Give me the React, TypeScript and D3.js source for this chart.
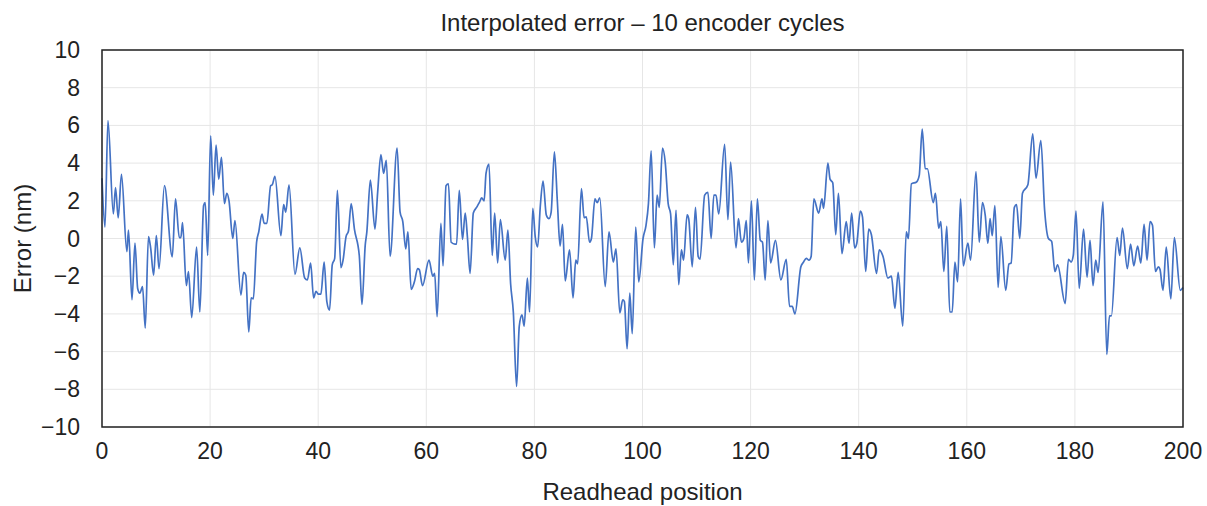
import React, { useRef, useEffect } from 'react';
import * as d3 from 'd3';

// readhead position (x) and interpolated error in nm (y) at the turning points
const positions = [
  0, 0.55, 1.1, 2.1, 2.5, 3.0, 3.6, 4.6, 4.9, 5.55, 6.1, 6.6, 7.0, 7.5, 8.0, 8.6, 9.0, 9.55, 10.05, 10.55,
  11.55, 13.0, 13.6, 14.3, 14.6, 14.9, 15.6, 16.0, 16.6, 17.5, 18.1, 18.8, 19.1, 19.55, 20.1,
  20.6, 21.1, 21.6, 22.1, 22.65, 23.1, 23.5, 24.2, 24.6, 25.7, 26.2, 26.6, 27.15, 27.6, 28.0, 28.6, 29.0,
  29.6, 30.0, 30.5, 31.2, 31.5, 32.0, 33.1, 33.6, 34.0, 34.6, 35.7, 36.6, 37.5, 38.0, 38.6, 39.15, 39.6,
  40.0, 40.5, 41.1, 41.6, 42.1, 42.6, 43.05, 43.55, 44.2, 44.6, 45.15, 45.6, 46.1, 46.7, 47.6, 48.1, 48.7,
  49.0, 49.65, 50.5, 51.0, 51.6, 52.1, 52.6, 53.3, 54.6, 55.15, 55.65, 56.2, 56.6, 57.2, 57.8, 58.4, 58.7, 59.3,
  60.5, 61.2, 61.55, 62.0, 62.7, 63.1, 63.65, 64.1, 64.6, 65.3, 65.6, 66.1, 66.7, 67.2, 67.6, 68.1, 68.7,
  69.3, 69.8, 70.25, 70.7, 71.05, 71.6, 72.2, 72.65, 73.2, 73.7, 74.6, 75.1, 75.6, 76.1, 76.7, 77.2, 77.7,
  78.1, 78.7, 79.1, 79.7, 80.15,
  80.6, 81.1, 81.6, 82.2, 82.7, 83.1, 83.7, 84.25, 84.75, 85.2, 85.7, 86.5, 87.15, 87.65, 88.0, 88.7, 89.2,
  89.6, 90.2, 90.55, 91.2, 91.6, 92.1, 93.1, 93.8, 94.6, 95.1, 95.8, 96.35, 96.65, 97.15, 97.65, 98.1, 98.75,
  99.3, 100.1,
  100.65, 101.1, 101.6, 102.2, 102.7, 103.1, 103.7, 104.2, 104.75, 105.2, 105.7, 106.2, 106.7, 107.2, 107.6,
  108.25, 108.55, 109.2, 109.8, 110.3, 110.65, 111.5, 112.1, 112.7, 113.2, 113.6, 114.1, 115.2, 115.8, 116.3,
  117.3, 117.75, 118.3, 118.75, 119.2, 119.6, 120.15,
  120.7, 121.25, 121.8, 122.2, 122.7, 123.2, 123.7, 124.6, 125.6, 126.6, 127.2, 127.7, 128.2, 129.3, 129.8,
  130.3, 130.8, 131.2, 131.7, 132.6, 133.2, 133.5, 134.3, 134.7, 135.2, 135.75, 136.25, 136.9, 137.7, 138.2,
  138.7, 139.25, 139.65, 140.3,
  140.7, 141.3, 141.85, 142.35, 143.3, 143.8, 144.5, 145.4, 146.05, 146.7, 147.3, 148.15, 148.8, 149.2, 149.75,
  150.7, 151.2, 151.75, 152.3, 152.7, 153.8, 154.2, 154.8, 155.2, 155.75, 156.3, 156.85, 157.3, 157.8, 158.3,
  158.85, 159.35, 160.2,
  160.7, 161.7, 162.3, 162.9, 163.4, 163.9, 164.3, 164.7, 165.2, 165.8, 166.3, 167.2, 167.8, 168.2, 168.8,
  169.2, 169.8, 170.3, 171.3, 172.2, 172.8, 173.7, 174.4, 175.1, 175.7, 176.3, 176.8, 178.2, 178.8, 179.3,
  179.7, 180.2,
  180.8, 181.6, 182.25, 182.8, 183.35, 183.85, 184.3, 185.2, 185.9, 186.4, 186.75, 187.8, 188.3, 188.8, 189.7,
  190.3, 190.9, 191.6, 192.2, 192.8, 193.35, 193.9, 194.35, 194.9, 195.45, 195.75, 196.3, 196.9, 197.75, 198.4,
  199.5, 200,
];

const errorNm = [
  3.2, 0.6, 6.25, 1.3, 2.7, 1.1, 3.4, -0.7, 0.45, -3.25, -0.25, -2.65, -2.9, -2.55, -4.75, 0.1, -0.5, -1.95, 0.15, -1.6,
  2.8, -0.97, 2.1, 0.05, 0.05, 0.85, -2.5, -1.75, -4.2, -0.45, -3.9, 1.75, 1.9, -0.9, 5.45,
  2.3, 4.95, 3.15, 4.3, 1.85, 2.4, 2.0, 0.0, 0.95, -3.0, -1.8, -1.95, -4.95, -3.15, -3.2, -0.2, 0.35,
  1.3, 0.8, 0.8, 2.8, 2.85, 3.3, 0.15, 1.8, 1.4, 2.85, -1.9, -0.5, -2.1, -2.2, -1.3, -3.15, -2.8,
  -2.95, -2.95, -1.25, -3.35, -3.8, -1.4, -1.05, 2.55, -1.55, -1.15, 0.1, 0.4, 1.85, 0.5, -0.9, -3.5, -0.35,
  0.35, 3.1, 0.5, 2.45, 4.45, 3.45, 4.15, -0.95, 4.8, 1.4, 0.9, -0.55, 0.35, -2.7, -2.3, -1.6, -1.65, -2.5,
  -1.15, -2.0, -1.85, -4.15, 0.8, -1.45, 2.8, 2.9, -0.2, -0.3, -0.3, 2.55, -0.05, 1.35, 0.1, -1.85, 1.35,
  1.65, 1.9, 2.15, 2.0, 3.45, 3.95, -0.9, 1.35, -1.3, 1.0, -1.15, 0.45, -2.4, -3.9, -7.85, -4.65, -4.05,
  -4.65, -2.1, -3.9, 1.6, 0.1,
  -0.45, 1.75, 3.05, 1.25, 1.05, 1.4, 4.6, 1.95, -0.4, 0.75, -2.25, -0.6, -3.15, -1.15, -1.35, 2.65, 1.1,
  1.15, -0.2, 0.0, 2.1, 1.9, 2.15, -2.55, 0.35, -1.25, -0.55, -3.95, -3.25, -3.35, -5.85, -2.9, -5.05, 0.6,
  -2.3, 0.0,
  0.7, 1.85, 4.65, -0.5, 2.3, 1.65, 4.8, 4.05, 1.85, 1.3, -1.4, 1.5, -2.45, -0.6, -1.15,
  1.25, 1.05, -1.5, 1.65, -0.95, -1.1, 2.3, 2.45, 0.0, 2.3, 2.3, 1.3, 5.0, 1.0, 4.05,
  -0.5, 1.05, -0.2, 0.0, 0.95, -1.3, 2.0,
  -2.2, 2.1, -0.1, -0.2, -2.2, 0.95, -1.3, -0.1, -2.2, -1.1, -3.6, -3.6, -4.0, -1.5, -1.25,
  -1.05, -1.15, -0.95, 2.1, 1.35, 2.1, 1.6, 4.0, 3.15, 2.95, 0.2, 2.4, -0.8, 0.9, -0.25,
  1.35, -0.5, -0.25, 1.45,
  1.15, -1.75, 0.5, 0.2, -1.85, -0.6, -0.95, -2.1, -2.0, -3.7, -1.8, -4.65, 0.35, 0.0, 2.9,
  3.0, 3.35, 5.8, 3.7, 3.7, 1.9, 2.4, 0.55, 0.9, -1.75, 0.65, -3.9, -3.9, -1.25, -2.3,
  2.1, -1.45, -0.25,
  -1.15, 3.55, -0.2, 1.9, 1.25, -0.25, 1.05, 0.15, 1.75, -2.6, 0.1, -2.75, -1.35, -1.3, 1.65,
  1.8, 0.0, 2.4, 2.85, 5.55, 3.2, 5.2, 1.5, 0.0, -0.15, -1.75, -1.4, -3.45, -1.1, -1.25,
  -0.9, 1.45,
  -2.65, 0.5, -2.05, -0.1, -2.5, -1.15, -1.8, 1.95, -6.15, -4.1, -4.1, 0.05, -0.9, 0.55, -1.6,
  -0.3, -1.45, -0.4, -1.3, 0.75, -1.15, 0.9, 0.7, -1.75, -1.5, -1.65, -2.75, -0.45, -3.2, 0.05,
  -2.75, -2.6,
];

const xTicks = [0, 20, 40, 60, 80, 100, 120, 140, 160, 180, 200];
const yTicks = [-10, -8, -6, -4, -2, 0, 2, 4, 6, 8, 10];

function App() {
  const svgRef = useRef<SVGSVGElement>(null);

  useEffect(() => {
    document.body.style.margin = "0";
    const svg = d3.select(svgRef.current);
    svg.selectAll("*").remove();

    const width = 1207;
    const height = 506;
    const margin = { top: 50, right: 24, bottom: 79, left: 102 };
    const font = "'Liberation Sans', Arial, Helvetica, sans-serif";

    const x = d3.scaleLinear()
      .domain([0, 200])
      .range([margin.left, width - margin.right]);

    const y = d3.scaleLinear()
      .domain([-10, 10])
      .range([height - margin.bottom, margin.top]);

    svg.attr("width", width).attr("height", height).style("display", "block");

    // gridlines
    svg.append("g")
      .selectAll("line")
      .data(xTicks)
      .enter()
      .append("line")
      .attr("x1", d => x(d))
      .attr("x2", d => x(d))
      .attr("y1", y(-10))
      .attr("y2", y(10))
      .attr("stroke", "#e6e6e6")
      .attr("stroke-width", 1);

    svg.append("g")
      .selectAll("line")
      .data(yTicks)
      .enter()
      .append("line")
      .attr("x1", x(0))
      .attr("x2", x(200))
      .attr("y1", d => y(d))
      .attr("y2", d => y(d))
      .attr("stroke", "#e6e6e6")
      .attr("stroke-width", 1);

    // series
    const pts = positions.map((p, i) => [p, errorNm[i]] as [number, number]);
    const line = d3.line<[number, number]>()
      .x(d => x(d[0]))
      .y(d => y(d[1]))
      .curve(d3.curveMonotoneX);

    svg.append("path")
      .datum(pts)
      .attr("d", line)
      .attr("fill", "none")
      .attr("stroke", "#4472c4")
      .attr("stroke-width", 1.7)
      .attr("stroke-linejoin", "round");

    // frame
    svg.append("rect")
      .attr("x", x(0))
      .attr("y", y(10))
      .attr("width", x(200) - x(0))
      .attr("height", y(-10) - y(10))
      .attr("fill", "none")
      .attr("stroke", "#222")
      .attr("stroke-width", 1.5);

    // tick labels
    svg.append("g")
      .selectAll("text")
      .data(xTicks)
      .enter()
      .append("text")
      .attr("x", d => x(d))
      .attr("y", y(-10) + 32)
      .attr("text-anchor", "middle")
      .style("font-family", font)
      .style("font-size", "23px")
      .attr("fill", "#222")
      .text(d => d);

    svg.append("g")
      .selectAll("text")
      .data(yTicks)
      .enter()
      .append("text")
      .attr("x", x(0) - 22)
      .attr("y", d => y(d) + 8)
      .attr("text-anchor", "end")
      .style("font-family", font)
      .style("font-size", "23px")
      .attr("fill", "#222")
      .text(d => d < 0 ? `\u2212${Math.abs(d)}` : `${d}`);

    // titles
    svg.append("text")
      .attr("x", (x(0) + x(200)) / 2)
      .attr("y", 31)
      .attr("text-anchor", "middle")
      .style("font-family", font)
      .style("font-size", "24px")
      .attr("fill", "#222")
      .text("Interpolated error \u2013 10 encoder cycles");

    svg.append("text")
      .attr("x", (x(0) + x(200)) / 2)
      .attr("y", 500)
      .attr("text-anchor", "middle")
      .style("font-family", font)
      .style("font-size", "24px")
      .attr("fill", "#222")
      .text("Readhead position");

    svg.append("text")
      .attr("x", -(y(-10) + y(10)) / 2)
      .attr("y", 31)
      .attr("transform", "rotate(-90)")
      .attr("text-anchor", "middle")
      .style("font-family", font)
      .style("font-size", "24px")
      .attr("fill", "#222")
      .text("Error (nm)");
  }, []);

  return <svg ref={svgRef}></svg>;
}

export default App;
